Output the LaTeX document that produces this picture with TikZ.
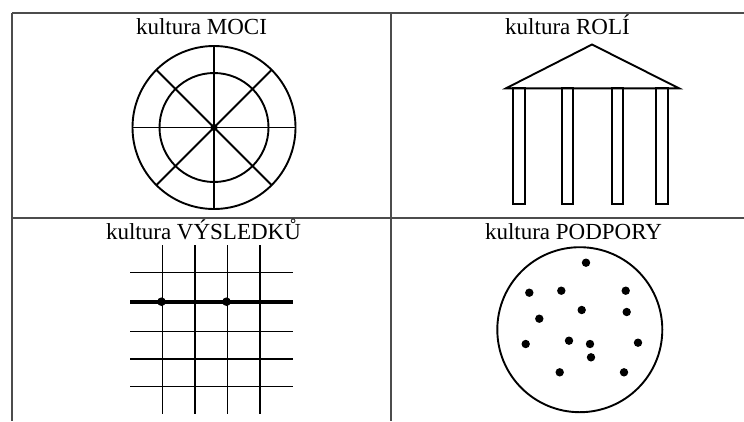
\documentclass[tikz,border=0pt]{standalone}
\usepackage{fontspec}
\setmainfont{Liberation Serif}
\begin{document}
\begin{tikzpicture}[x=1pt,y=-1pt,
  rule/.style={draw=black!70,line width=1.7pt},
  fig/.style={draw=black,line width=1.9pt},
  gridline/.style={draw=black,line width=1.4pt},
  thickline/.style={draw=black,line width=3.6pt},
  lbl/.style={anchor=base,inner sep=0pt,font=\fontsize{23}{27}\selectfont}]
\useasboundingbox (0,0) rectangle (744,421);
% table rules
\draw[rule] (12,12.7) -- (744,12.7);
\draw[rule] (12,218) -- (744,218);
\draw[rule] (12,12.7) -- (12,421);
\draw[rule] (391,12.7) -- (391,421);
% labels
\node[lbl] (lmoci) at (201.5,34.3) {kultura MOCI};
\node[lbl] (lroli) at (567.5,34.3) {kultura ROLÍ};
\node[lbl] (lvysl) at (203.5,239.6) {kultura VÝSLEDKŮ};
\node[lbl] (lpodp) at (573.5,239.6) {kultura PODPORY};
% power: web
\begin{scope}[shift={(214,127.5)}]
  \draw[fig] (0,0) circle[radius=81.5];
  \draw[fig] (0,0) circle[radius=54.5];
  \foreach \a in {0,45,90,135}{
    \draw[fig] (\a:81.5) -- (\a+180:81.5);
  }
  \fill (0,0) circle[radius=3.6];
\end{scope}
% role: temple
\draw[fig,line join=miter] (506,88.3) -- (592,44.5) -- (679,88.3) -- cycle;
\foreach \x in {513.3,561.7,611.7,656}{
  \draw[fig] (\x,88.3) rectangle (\x+11.7,204.3);
}
% task: grid
\foreach \x in {162.3,195,227.7,260}{
  \draw[gridline] (\x,245) -- (\x,414);
}
\foreach \y in {272.7,331.7,359,386.7}{
  \draw[gridline] (130,\y) -- (293.3,\y);
}
\draw[thickline] (130,301.7) -- (293.3,301.7);
\fill (161.5,301.7) circle[radius=4.3];
\fill (226.5,301.7) circle[radius=4.3];
% person: dots in circle
\draw[fig] (579.8,329.7) circle[radius=82.5];
\foreach \p in {(586,262.7),(529.3,292.7),(561.3,290.7),(625.7,290.7),(581.7,310),(626.7,312),(539.3,318.7),(525.7,344),(569,340.7),(590,344),(638,342.7),(591,357.3),(559.7,372.3),(624,372.3)}{
  \fill \p circle[radius=4.2];
}
\end{tikzpicture}
\end{document}
